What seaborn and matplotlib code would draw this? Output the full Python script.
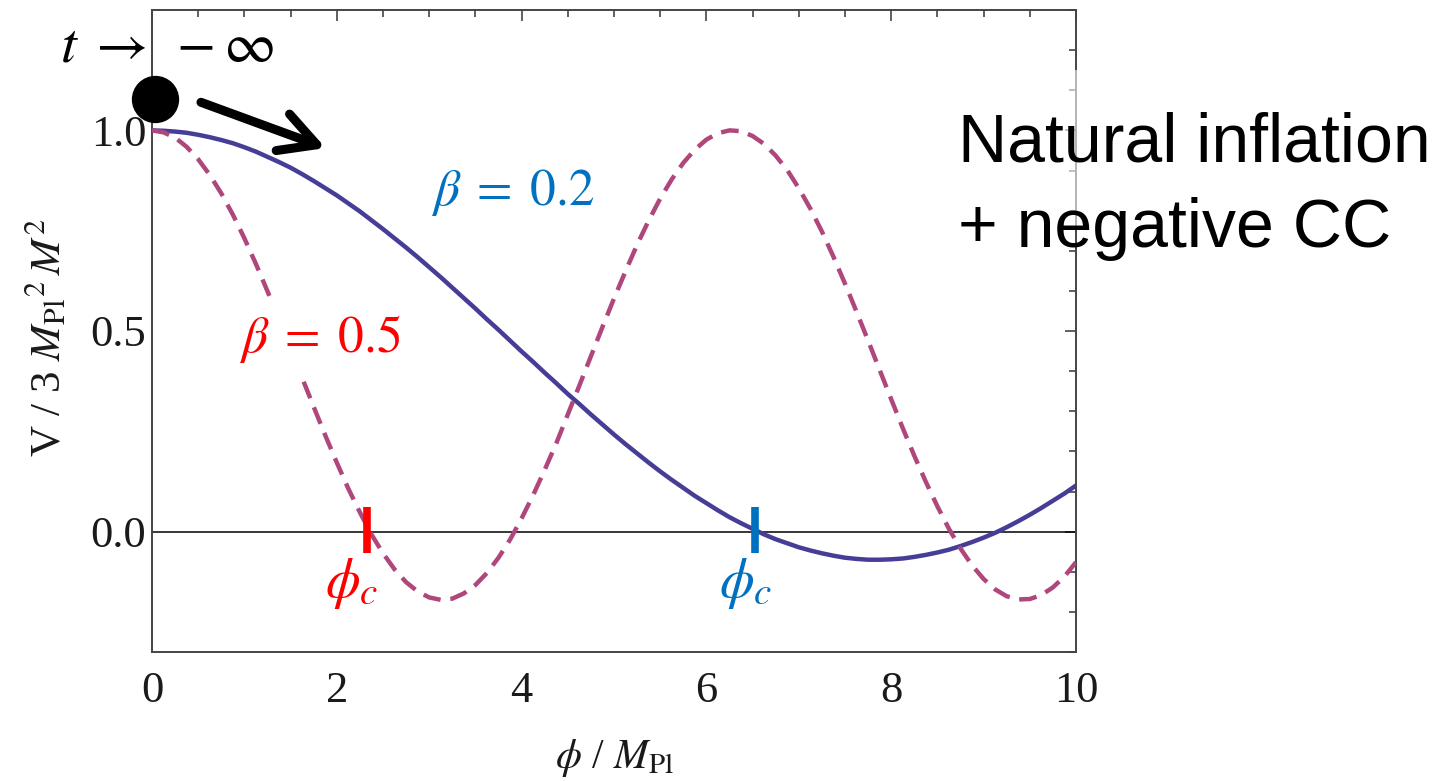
import matplotlib
matplotlib.use("Agg")
import matplotlib.pyplot as plt
from matplotlib.ticker import MultipleLocator, FixedLocator
from matplotlib.patches import Rectangle
import pandas as pd
import seaborn as sns

# ---- data ----
phi = [0.0, 0.125, 0.25, 0.375, 0.5, 0.625, 0.75, 0.875, 1.0, 1.125, 1.25, 1.375, 1.5,
       1.625, 1.75, 1.875, 2.0, 2.125, 2.25, 2.375, 2.5, 2.625, 2.75, 2.875, 3.0, 3.125,
       3.25, 3.375, 3.5, 3.625, 3.75, 3.875, 4.0, 4.125, 4.25, 4.375, 4.5, 4.625, 4.75,
       4.875, 5.0, 5.125, 5.25, 5.375, 5.5, 5.625, 5.75, 5.875, 6.0, 6.125, 6.25, 6.375,
       6.5, 6.625, 6.75, 6.875, 7.0, 7.125, 7.25, 7.375, 7.5, 7.625, 7.75, 7.875, 8.0,
       8.125, 8.25, 8.375, 8.5, 8.625, 8.75, 8.875, 9.0, 9.125, 9.25, 9.375, 9.5, 9.625,
       9.75, 9.875, 10.0]
v_beta02 = [1.000, 0.999, 0.997, 0.994, 0.989, 0.983, 0.976, 0.968, 0.958, 0.947, 0.934,
            0.921, 0.907, 0.891, 0.874, 0.856, 0.838, 0.818, 0.798, 0.776, 0.754, 0.731,
            0.708, 0.684, 0.659, 0.634, 0.608, 0.582, 0.556, 0.529, 0.503, 0.476, 0.449,
            0.423, 0.396, 0.370, 0.343, 0.318, 0.292, 0.267, 0.242, 0.218, 0.195, 0.172,
            0.150, 0.129, 0.109, 0.089, 0.071, 0.053, 0.036, 0.021, 0.007, -0.007, -0.019,
            -0.029, -0.039, -0.047, -0.054, -0.060, -0.065, -0.068, -0.070, -0.070, -0.069,
            -0.067, -0.063, -0.058, -0.052, -0.045, -0.036, -0.026, -0.015, -0.003, 0.011,
            0.026, 0.042, 0.059, 0.077, 0.095, 0.115]
v_beta05 = [1.000, 0.995, 0.982, 0.959, 0.928, 0.889, 0.843, 0.790, 0.731, 0.667, 0.599,
            0.529, 0.456, 0.383, 0.311, 0.240, 0.172, 0.107, 0.048, -0.007, -0.054, -0.094,
            -0.126, -0.149, -0.164, -0.170, -0.167, -0.154, -0.133, -0.103, -0.065, -0.020,
            0.033, 0.091, 0.154, 0.220, 0.292, 0.364, 0.437, 0.510, 0.581, 0.649, 0.715,
            0.775, 0.830, 0.878, 0.919, 0.952, 0.977, 0.993, 1.000, 0.998, 0.986, 0.966,
            0.937, 0.901, 0.856, 0.805, 0.748, 0.685, 0.618, 0.548, 0.476, 0.403, 0.330,
            0.258, 0.189, 0.124, 0.063, 0.007, -0.042, -0.084, -0.118, -0.144, -0.161,
            -0.169, -0.168, -0.158, -0.139, -0.112, -0.076]
beta_names = ["0.2", "0.5"]
phi_c = [6.53, 2.33]          # zero crossings marked for beta = 0.2, 0.5
x_ticks = [0, 2, 4, 6, 8, 10]
y_ticks = [0.0, 0.5, 1.0]
y_ticklabels = ["0.0", "0.5", "1.0"]

df = pd.DataFrame({
    "phi": phi + phi,
    "V": v_beta02 + v_beta05,
    "beta": [beta_names[0]] * len(phi) + [beta_names[1]] * len(phi),
})

sns.set_theme(style="white")
plt.rcParams["font.family"] = ["Liberation Serif", "DejaVu Serif"]
plt.rcParams["mathtext.fontset"] = "stix"

W, H = 1452, 781
fig = plt.figure(figsize=(W / 100, H / 100), dpi=100)
fig.patch.set_facecolor("white")
ax = fig.add_axes([152 / W, 1 - 652 / H, (1076 - 152) / W, (652 - 10) / H])
ax.set_facecolor("white")

line_blue = "#463e96"
line_red = "#b0477c"
sns.lineplot(data=df, x="phi", y="V", hue="beta", style="beta",
             palette={"0.2": line_blue, "0.5": line_red},
             dashes={"0.2": "", "0.5": (4.0, 2.2)},
             linewidth=3.2, legend=False, ax=ax, sort=False, zorder=3)

ax.axhline(0, color="black", lw=1.1, zorder=2)

ax.set_xlim(0, 10)
ax.set_ylim(-0.3, 1.3)
ax.xaxis.set_major_locator(FixedLocator(x_ticks))
ax.xaxis.set_minor_locator(MultipleLocator(0.5))
ax.yaxis.set_major_locator(FixedLocator(y_ticks))
ax.set_yticklabels(y_ticklabels)
ax.yaxis.set_minor_locator(MultipleLocator(0.1))
ax.tick_params(which="both", direction="in", top=True, right=True,
               color="#444444", width=1.2, labelcolor="#1a1a1a")
ax.tick_params(which="major", length=8)
ax.tick_params(which="minor", length=5)
ax.tick_params(axis="x", which="major", labelsize=32, pad=14)
ax.tick_params(axis="y", which="major", labelsize=32, pad=4)
for s in ax.spines.values():
    s.set_color("#444444")
    s.set_linewidth(1.4)

ax.set_xlabel(r"$\phi$ / $M_{\mathrm{Pl}}$", fontsize=30, color="#1a1a1a")
ax.xaxis.set_label_coords(0.5, -0.132)
ax.set_ylabel(r"V / 3 $M_{\mathrm{Pl}}{}^{2}\,M^{2}$", fontsize=31, color="#1a1a1a")
ax.yaxis.set_label_coords(-0.09, 0.49)

# beta labels
ax.text(3.9, 0.846, r"$\beta\;=\;0.2$", color="#0070C0", fontsize=37,
        ha="center", va="center", zorder=5)
ax.text(1.82, 0.48, r"$\beta\;=\;0.5$", color="#ff0000", fontsize=37,
        ha="center", va="center", zorder=5,
        bbox=dict(fc="white", ec="none", pad=8))

# phi_c markers
mark_colors = ["#0070C0", "#ff0000"]
for xc, col in zip(phi_c, mark_colors):
    ax.plot([xc, xc], [-0.054, 0.062], color=col, lw=5.5,
            solid_capstyle="butt", zorder=6)
ax.text(6.43, -0.13, r"$\phi_c$", color="#0070C0", fontsize=40,
        ha="center", va="center", zorder=6)
ax.text(2.16, -0.13, r"$\phi_c$", color="#ff0000", fontsize=40,
        ha="center", va="center", zorder=6)

# ball and arrow
ax.scatter([0.03], [1.078], s=1160, color="black", clip_on=False, zorder=8,
           linewidths=0)
ax.annotate("", xy=(1.88, 0.956), xytext=(0.53, 1.07),
            arrowprops=dict(arrowstyle="->,head_length=1.3,head_width=0.7",
                            lw=6.5, color="black", shrinkA=0, shrinkB=0,
                            mutation_scale=20),
            annotation_clip=False, zorder=8)

fig.text(167 / W, 1 - 48 / H, r"$t\;\rightarrow\;-\infty$", fontsize=41,
         ha="center", va="center", color="black")

# semi-transparent box behind the right-hand text
fig.patches.append(Rectangle((950 / W, 1 - 230 / H), 495 / W, 160 / H,
                             transform=fig.transFigure, fc="white", ec="none",
                             alpha=0.6, zorder=1))
fig.text(958 / W, 1 - 162 / H, "Natural inflation", fontsize=49,
         family="Liberation Sans", ha="left", va="baseline", color="black", zorder=3)
fig.text(958 / W, 1 - 247 / H, "+ negative CC", fontsize=49,
         family="Liberation Sans", ha="left", va="baseline", color="black", zorder=3)

fig.savefig("out.png", dpi=100, facecolor="white")
